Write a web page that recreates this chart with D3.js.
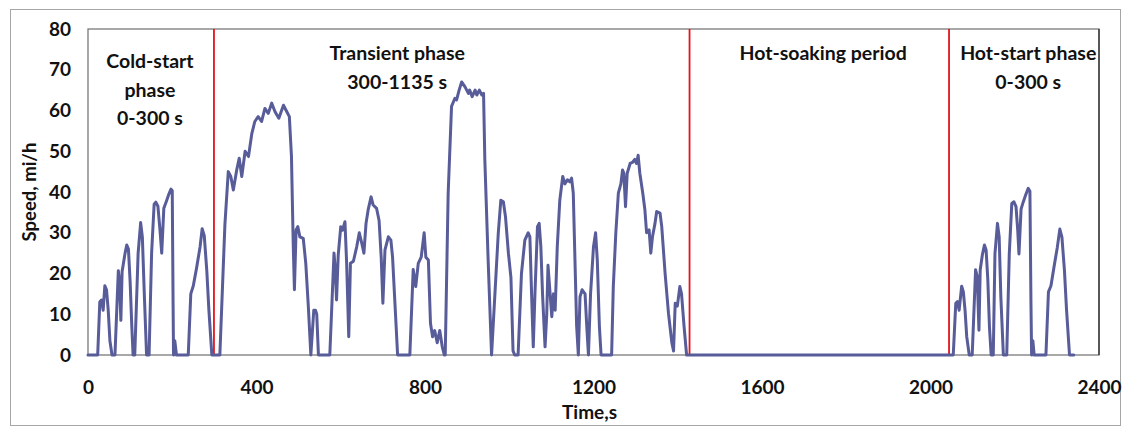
<!DOCTYPE html>
<html>
<head>
<meta charset="utf-8">
<script src="https://cdn.jsdelivr.net/npm/d3@7/dist/d3.min.js"></script>
<style>
  html, body { margin: 0; padding: 0; background: #fff; }
  svg { display: block; }
  text { font-family: Lato, "Open Sans", sans-serif; font-weight: bold; fill: #111; }
</style>
</head>
<body>
<svg id="chart" width="1124" height="429"></svg>
<script>
// ---- data ----
const timeS = [
  0,23,28,32,36,40,44,48,52,57,64,72,75,78,81,88,92,96,100,104,107,111,119,125,129,134,139,145,151,157,161,166,171,175,180,187,192,197,200,202,203,206,210,238,244,250,258,266,271,276,282,287,294,
  313,325,333,339,345,353,359,365,373,381,389,396,404,412,420,428,436,444,453,464,472,478,483,487,490,494,498,503,511,517,523,529,536,540,543,547,574,
  584,587,590,594,600,604,610,614,619,623,630,638,644,650,655,660,665,672,677,685,691,696,700,705,713,719,723,729,735,764,772,778,784,791,798,802,808,813,818,823,829,835,841,846,
  848,855,863,871,875,881,887,895,903,906,912,919,923,929,935,939,942,950,958,966,974,980,986,991,998,1004,1009,1013,1021,1029,1037,1045,1049,1053,1057,1061,1067,1071,1075,1079,1085,1089,1092,1097,1101,1105,1109,1114,1120,1127,1132,1138,1144,1148,1152,1156,1160,1164,1168,1173,1180,1184,1188,1193,1200,1205,1209,1214,1218,1243,1247,1253,1259,1265,1269,1272,1276,1280,1287,1293,1298,1302,1306,1310,1317,1322,1326,1332,1336,1340,1346,1350,1358,1362,1370,1378,1386,1390,1394,1399,1405,1409,1415,1421,
  2054,2060,2064,2068,2074,2078,2082,2086,2092,2099,2107,2111,2115,2118,2123,2128,2132,2136,2140,2144,2149,2153,2159,2163,2167,2173,2181,2187,2193,2198,2203,2207,2210,2215,2220,2226,2232,2236,2238.5,2240,2243,2246,2274,2280,2286,2293,2301,2307,2312,2318,2323,2330,2340
];
const speedMph = [
  0,0,13,13.5,11,17,16,11,3.5,0,0,20.7,18,8.5,20.5,25,27,26,18,7,0,0,25,32.5,29,14,0,0,25,37,37.5,36.5,30.5,25,36,38,39.5,40.7,40.3,12.5,0,3.5,0,0,15,17,21.5,26.5,31,29.3,20.7,11,0,
  0,32,45,43.8,40.5,45.4,48.3,43.8,50,48.7,54.4,57.3,58.5,57.3,60.5,59.3,61.8,59.7,58.1,61.3,59.7,58.5,48.7,28,16,30.7,31.5,29,28.6,22.5,12,0,11,11,10,0,0,
  25,21,13.5,24.5,31.5,30.6,32.7,22.5,4.5,22.5,23,26.6,30,27.4,25,32.3,35.6,38.8,36.8,36,33,24,12.7,25.8,29,28.2,24,12,0,0,21,16.8,22.5,24,30,24,23.3,7.8,4.5,6,3,6,2,0,
  0,39.7,61,63,62.6,65,67,65.8,64.2,65,63.4,65,63.8,65,63.8,64.2,48,23,0,15,30,38,37.6,34,25,19,1,0,0,20,28.2,30,29,15,2,15,31.5,32.3,26.6,15,2,10,22,15,9.4,15,11,26.6,38,43.8,42,43,42.5,43.4,39.7,23.3,7,0,14.3,16,15,7,0,15,26.6,30,23.3,7,0,0,16.8,30,39.7,42,45.4,44.6,36.4,44.6,47,47.3,48,47,49,44.6,39.7,35.6,30,30.7,25,29,32.3,35.2,34.8,31.5,20,10.2,3,1,12.7,12,16.8,15,7,0,
  0,12.7,13.1,11,16.9,15.5,11,4.5,0,0,20.9,19.3,6.1,20.9,24.5,27,25.8,18.6,6.8,0,0,24.8,32.3,29,14.2,0,0,24.8,37.2,37.6,36.4,30.7,24.8,35.8,37.5,39.3,40.9,40.2,12.5,0,3.5,0,0,15.5,17,21.5,26.4,30.9,28.9,20.7,11,0,0
];
const phaseBoundaries = [299, 1428, 2044];
const phaseLabels = [
  { lines: ["Cold-start", "phase", "0-300 s"], t: 147 },
  { lines: ["Transient phase", "300-1135 s"], t: 734 },
  { lines: ["Hot-soaking period"], t: 1745 },
  { lines: ["Hot-start phase", "0-300 s"], t: 2232 }
];
const xTicks = [0, 400, 800, 1200, 1600, 2000, 2400];
const yTicks = [0, 10, 20, 30, 40, 50, 60, 70, 80];
const xTitle = "Time,s";
const yTitle = "Speed, mi/h";

// ---- layout ----
const svg = d3.select("#chart");
const L = 88, R = 1099, T = 29, B = 355;
const FS = 19.5;
const x = d3.scaleLinear().domain([0, 2400]).range([L, R]);
const y = d3.scaleLinear().domain([0, 80]).range([B, T]);

// outer frame
svg.append("rect").attr("x", 10.5).attr("y", 9.5).attr("width", 1110).attr("height", 416)
  .attr("fill", "none").attr("stroke", "#a6a6a6").attr("stroke-width", 1);

// plot frame
svg.append("rect").attr("x", L).attr("y", T).attr("width", R - L).attr("height", B - T)
  .attr("fill", "none").attr("stroke", "#6e6e6e").attr("stroke-width", 1.2);
svg.append("line").attr("x1", R).attr("x2", R).attr("y1", T).attr("y2", B)
  .attr("stroke", "#222").attr("stroke-width", 1.2);

// axes
const yAxis = d3.axisLeft(y).tickValues(yTicks).tickSize(0).tickPadding(17).tickFormat(d3.format("d"));
const gy = svg.append("g").attr("transform", `translate(${L},0)`).call(yAxis);
gy.select(".domain").remove();
gy.selectAll("text").attr("font-size", 19).attr("font-family", "Lato, sans-serif").attr("font-weight", "bold").attr("fill", "#111");

const xAxis = d3.axisBottom(x).tickValues(xTicks).tickSize(0).tickPadding(26).tickFormat(d3.format("d"));
const gx = svg.append("g").attr("transform", `translate(0,${B})`).call(xAxis);
gx.select(".domain").remove();
gx.selectAll("text").attr("font-size", 19).attr("font-family", "Lato, sans-serif").attr("font-weight", "bold").attr("fill", "#111");

// titles
svg.append("text").attr("x", (L + R) / 2 - 4).attr("y", 419).attr("text-anchor", "middle")
  .attr("font-size", 19).text(xTitle);
svg.append("text").attr("transform", `translate(36,${(T + B) / 2}) rotate(-90)`)
  .attr("text-anchor", "middle").attr("font-size", 18.5).text(yTitle);

// phase boundaries
svg.selectAll("line.phase").data(phaseBoundaries).enter().append("line")
  .attr("class", "phase")
  .attr("x1", d => x(d)).attr("x2", d => x(d)).attr("y1", T).attr("y2", B)
  .attr("stroke", "#e3141b").attr("stroke-width", 1.8);

// speed trace
const pts = timeS.map((t, i) => [t, speedMph[i]]);
const line = d3.line().x(d => x(d[0])).y(d => y(d[1]));
svg.append("path").datum(pts).attr("d", line)
  .attr("fill", "none").attr("stroke", "#585c99").attr("stroke-width", 3)
  .attr("stroke-linejoin", "round").attr("stroke-linecap", "round");

// phase labels
phaseLabels.forEach((p, i) => {
  const startY = i === 0 ? 68 : 60;
  p.lines.forEach((s, j) => {
    svg.append("text").attr("x", x(p.t)).attr("y", startY + j * 28.5)
      .attr("text-anchor", "middle").attr("font-size", FS).text(s);
  });
});
</script>
</body>
</html>
